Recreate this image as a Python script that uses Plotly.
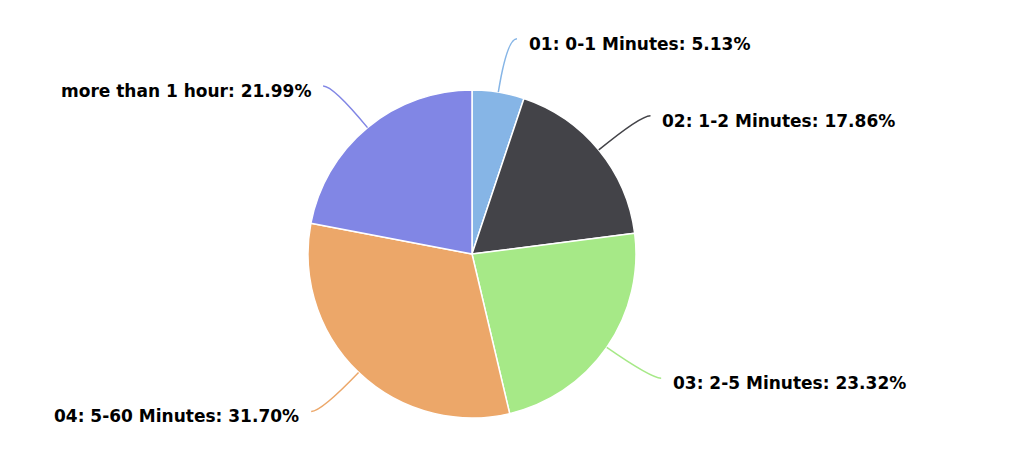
import math
import plotly.graph_objects as go

categories = ["01: 0-1 Minutes", "02: 1-2 Minutes", "03: 2-5 Minutes",
              "04: 5-60 Minutes", "more than 1 hour"]
values = [5.13, 17.86, 23.32, 31.70, 21.99]
colors = ["#86b5e6", "#434348", "#a6e987", "#eca769", "#8186e5"]

W, H = 1024, 453
OFF = 8  # page body margin
cx, cy, r = 472 - OFF, 254 - OFF, 164
R_lab = 218

fig = go.Figure()
fig.add_trace(go.Pie(
    labels=categories, values=values, sort=False, direction="clockwise",
    rotation=0, textinfo="none", hoverinfo="label+percent",
    marker=dict(colors=colors, line=dict(color="#ffffff", width=1.5)),
    domain=dict(x=[(cx - r) / W, (cx + r) / W],
                y=[1 - (cy + r) / H, 1 - (cy - r) / H]),
    showlegend=False,
))

def px(x):
    return x / W

def py(y):
    return 1 - y / H

total = sum(values)
cum = 0.0
shapes, annotations = [], []
for cat, v, col in zip(categories, values, colors):
    mid = (cum + v / 2) / total * 2 * math.pi
    cum += v
    s, c = math.sin(mid), math.cos(mid)
    sign = 1 if s >= 0 else -1
    ex, ey = cx + r * s, cy - r * c
    qx, qy = cx + R_lab * s, cy - R_lab * c
    tx = qx + sign * 10
    path = f"M {px(ex)},{py(ey)} Q {px(qx)},{py(qy)} {px(tx)},{py(qy)}"
    shapes.append(dict(type="path", xref="paper", yref="paper", path=path,
                       line=dict(color=col, width=1.5)))
    annotations.append(dict(
        x=px(tx + sign * 10), y=py(qy + 5), xref="paper", yref="paper",
        text=f"<b>{cat}: {v:.2f}%</b>", showarrow=False,
        xanchor="left" if sign > 0 else "right", yanchor="middle",
        font=dict(family="DejaVu Sans", size=17, color="#000000"),
    ))

fig.update_layout(
    width=W, height=H, margin=dict(l=0, r=0, t=0, b=0),
    paper_bgcolor="#ffffff", plot_bgcolor="#ffffff",
    shapes=shapes, annotations=annotations,
)
fig.write_html("out.html")
